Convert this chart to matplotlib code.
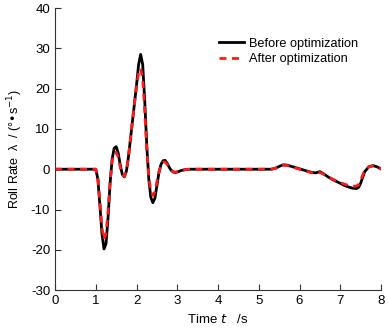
import numpy as np
import matplotlib
matplotlib.use("Agg")
import matplotlib.pyplot as plt

plt.rcParams['font.family'] = ['Liberation Sans', 'DejaVu Sans']
plt.rcParams['axes.unicode_minus'] = False

# Roll rate before optimization
t_before = [0, 0.5, 1.0, 1.05, 1.1, 1.15, 1.2, 1.25, 1.3, 1.35, 1.4, 1.45, 1.5, 1.55, 1.6,
            1.65, 1.7, 1.75, 1.8, 1.85, 1.9, 1.95, 2.0, 2.05, 2.1, 2.15, 2.2, 2.25, 2.3,
            2.35, 2.4, 2.45, 2.5, 2.55, 2.6, 2.65, 2.7, 2.75, 2.8, 2.85, 2.9, 2.95, 3.0,
            3.1, 3.2, 3.3, 4.0, 5.3, 5.4, 5.5, 5.6, 5.7, 5.8, 5.9, 6.0, 6.1, 6.2, 6.3,
            6.4, 6.5, 6.6, 6.7, 6.8, 6.9, 7.0, 7.1, 7.2, 7.3, 7.4, 7.45, 7.5, 7.55, 7.6,
            7.7, 7.8, 7.9, 8.0]
roll_before = [0, 0, 0, -2.5, -9, -16, -19.8, -18.5, -12, -3.5, 2.5, 5.2, 5.6, 4.0, 1.0,
               -1.3, -1.9, -0.5, 3, 7.5, 12, 16.5, 21, 26, 28.5, 26, 17, 6, -2.5,
               -7, -8.3, -7.2, -4, -0.8, 1.2, 2.1, 2.2, 1.5, 0.5, -0.3, -0.7, -0.8, -0.7,
               -0.3, -0.1, 0, 0, 0, 0.2, 0.7, 1.1, 1.0, 0.7, 0.4, 0.1, -0.2, -0.5, -0.8,
               -0.9, -0.6, -1.2, -1.9, -2.5, -3.0, -3.5, -4.0, -4.4, -4.7, -4.8, -4.5, -3.5, -2.0, -0.6,
               0.6, 0.9, 0.6, 0.1]

# Roll rate after optimization
t_after = t_before
roll_after = [0, 0, 0, -2.2, -8, -14.5, -17.5, -16, -10.5, -3, 2, 4, 4.2, 3, 0.5,
              -1.4, -1.8, -0.5, 3, 7.5, 12, 16.5, 20.5, 24, 25, 22.5, 14.5, 5, -2,
              -5.5, -6.5, -5.6, -3, -0.6, 1, 1.7, 1.8, 1.2, 0.4, -0.2, -0.6, -0.7, -0.6,
              -0.3, -0.1, 0, 0, 0, 0.2, 0.7, 1.0, 0.9, 0.6, 0.3, 0.0, -0.3, -0.6, -0.9,
              -1.0, -0.8, -1.3, -1.9, -2.4, -2.9, -3.3, -3.7, -4.0, -4.2, -4.2, -3.8, -2.8, -1.5, -0.3,
              0.6, 0.8, 0.5, 0.0]

fig = plt.figure(figsize=(3.88, 3.35), dpi=100)
ax = fig.add_axes([0.142, 0.134, 0.840, 0.842])

ax.plot(t_before, roll_before, color='black', lw=2, label='Before optimization')
ax.plot(t_after, roll_after, color='#ff1a1a', lw=2, dashes=(2.5, 2.0),
        label='After optimization')

ax.set_xlim(0, 8)
ax.set_ylim(-30, 40)
ax.set_xticks(range(0, 9))
ax.set_yticks(range(-30, 41, 10))
for s in ['top', 'right']:
    ax.spines[s].set_visible(False)
for s in ['left', 'bottom']:
    ax.spines[s].set_color('#333333')
ax.tick_params(direction='in', length=4, labelsize=9.5, colors='#333333',
               labelcolor='black')

ax.set_xlabel('Time $t$   /s', fontsize=9.5)
ax.set_ylabel('Roll Rate  λ  / (°•s$^{-1}$)', fontsize=9)

ax.legend(loc='upper left', bbox_to_anchor=(0.467, 0.936), frameon=False,
          fontsize=9.2, handlelength=2.0, labelspacing=0.3, handletextpad=0.4,
          borderpad=0.4)

fig.savefig('out.png', dpi=100)
